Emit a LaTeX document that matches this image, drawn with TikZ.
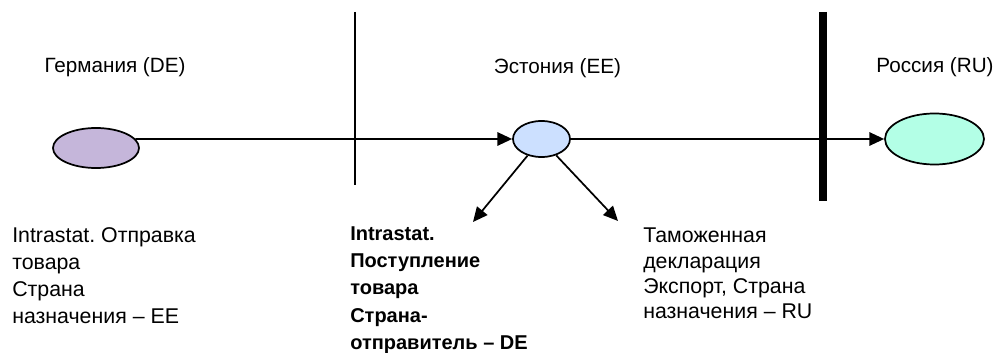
\documentclass[tikz,border=0pt]{standalone}
\usepackage{fontspec}
\setmainfont{Liberation Sans}
\newfontfamily\arialf{Liberation Sans}
\usetikzlibrary{shapes.geometric,arrows.meta}
\definecolor{deFill}{RGB}{197,182,218}
\definecolor{eeFill}{RGB}{204,224,255}
\definecolor{ruFill}{RGB}{179,255,230}
\frenchspacing
\tikzset{
  country/.style={ellipse,draw=black,line width=1.3pt,inner sep=0pt},
  conn/.style={line width=1.3pt,-{Triangle[length=11pt,width=10pt]}},
  border/.style={line width=1.4pt},
  hardborder/.style={line width=6pt},
  label/.style={font=\arialf\fontsize{15.5}{18}\selectfont,inner sep=0pt},
  note/.style={align=left,anchor=north west,inner sep=0pt,font=\fontsize{16}{20.25}\selectfont},
}
\begin{document}
\begin{tikzpicture}[x=0.75pt,y=-0.75pt]
\useasboundingbox (0,0) rectangle (997,353);
% borders
\coordinate (b1t) at (355,12);
\coordinate (b1b) at (355,185);
\coordinate (b2t) at (823,12);
\coordinate (b2b) at (823,201);
\draw[border] (b1t) -- (b1b);
\draw[hardborder] (b2t) -- (b2b);
% countries
\node[country,fill=deFill,minimum width=64.5pt,minimum height=30pt] (de) at (96,148) {};
\node[country,fill=eeFill,minimum width=42.75pt,minimum height=27pt] (ee) at (541.5,139) {};
\node[country,fill=ruFill,minimum width=74.25pt,minimum height=38.25pt] (ru) at (934.5,139) {};
% labels
\node[label] (lde) at (115,67.5) {Германия (DE)};
\node[label] (lee) at (557.5,68.5) {Эстония (EE)};
\node[label] (lru) at (935,67.5) {Россия (RU)};
% connectors
\draw[conn] (de.13) -- (ee.west);
\draw[conn] (ee.east) -- (ru.west);
\coordinate (dl) at (473,222);
\coordinate (dr) at (618,221);
\draw[conn] (ee.230) -- (dl);
\draw[conn] (ee.312) -- (dr);
% notes
\node[note] (n1) at (12,227) {Intrastat. Отправка\\товара\\Страна\\назначения – EE};
\node[note,font=\bfseries\fontsize{15}{20.5}\selectfont] (n2) at (350,226) {Intrastat.\\Поступление\\товара\\Страна-\\отправитель – DE};
\node[note,font=\fontsize{16}{19}\selectfont] (n3) at (643,228) {Таможенная\\декларация\\Экспорт, Страна\\назначения – RU};
\end{tikzpicture}
\end{document}
